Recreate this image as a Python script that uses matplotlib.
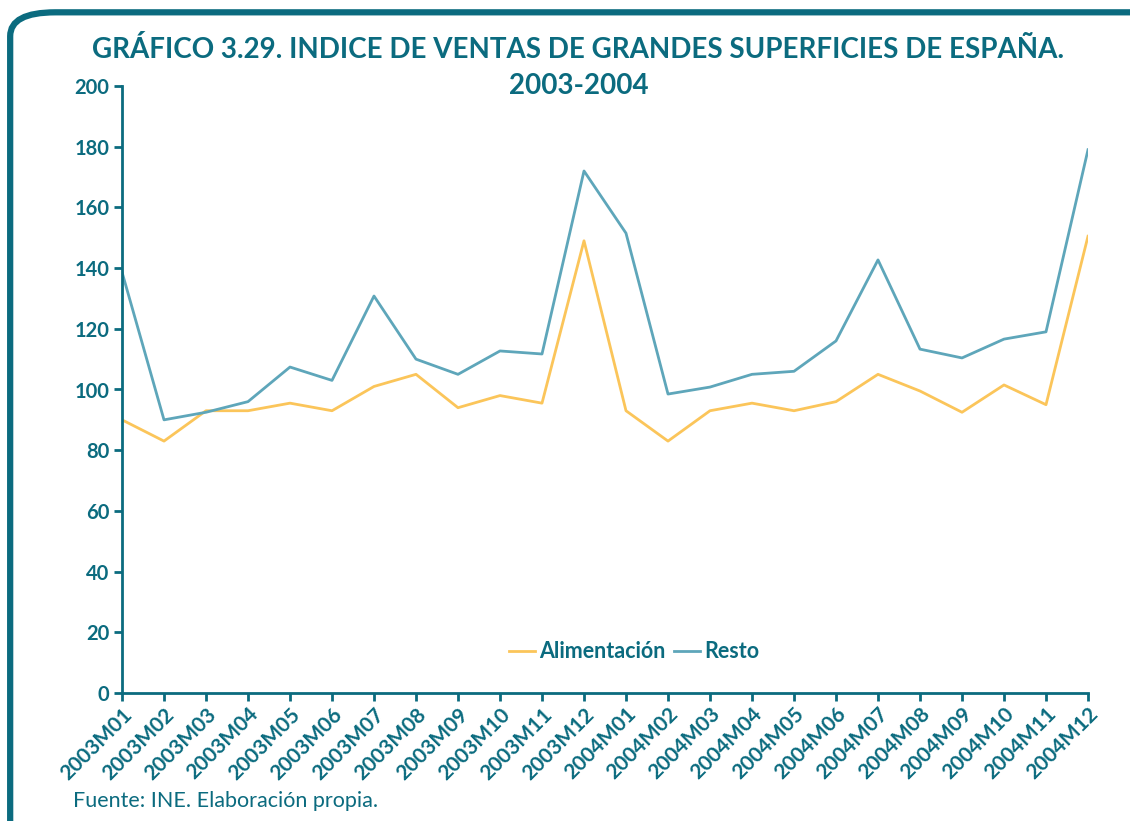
import numpy as np
import matplotlib.pyplot as plt
from matplotlib.patches import FancyBboxPatch

# ---------------------------- data ---------------------------- #
months = ['2003M01', '2003M02', '2003M03', '2003M04', '2003M05', '2003M06',
          '2003M07', '2003M08', '2003M09', '2003M10', '2003M11', '2003M12',
          '2004M01', '2004M02', '2004M03', '2004M04', '2004M05', '2004M06',
          '2004M07', '2004M08', '2004M09', '2004M10', '2004M11', '2004M12']

alimentacion = [90, 83, 93, 93, 95.5, 93, 101, 105, 94, 98, 95.5, 149,
                93, 83, 93, 95.5, 93, 96, 105, 99.5, 92.5, 101.5, 95, 150.5]

resto = [138.7, 90, 92.5, 96, 107.4, 103, 130.8, 110, 105, 112.7, 111.7, 172,
         151.5, 98.5, 100.8, 105, 106, 116, 142.7, 113.3, 110.4, 116.6, 119, 179]

yticks = [0, 20, 40, 60, 80, 100, 120, 140, 160, 180, 200]

TEAL = '#0b6b7f'
YELLOW = '#fbc55a'
BLUE = '#5ea6ba'

plt.rcParams['font.family'] = ['Lato', 'DejaVu Sans']

fig = plt.figure(figsize=(11.3, 8.21), dpi=100)

# rounded frame round the whole chart
frame = FancyBboxPatch((0.009, -0.05), 1.05, 1.035, transform=fig.transFigure,
                       boxstyle='round,pad=0,rounding_size=0.04',
                       fill=False, edgecolor=TEAL, linewidth=4.5, clip_on=False,
                       mutation_aspect=821 / 1130)
fig.patches.append(frame)

ax = fig.add_axes([122 / 1130, 1 - 693 / 821, (1088 - 122) / 1130, (693 - 86) / 821])

x = np.arange(len(months))
ax.plot(x, alimentacion, color=YELLOW, lw=2, label='Alimentación')
ax.plot(x, resto, color=BLUE, lw=2, label='Resto')

ax.set_xlim(0, len(months) - 1)
ax.set_ylim(0, 200)
ax.set_yticks(yticks)
ax.set_xticks(x)
ax.set_xticklabels(months, rotation=45, ha='right', rotation_mode='anchor')

for s in ['top', 'right']:
    ax.spines[s].set_visible(False)
for s in ['left', 'bottom']:
    ax.spines[s].set_color(TEAL)
    ax.spines[s].set_linewidth(2)

ax.tick_params(axis='both', colors=TEAL, width=2, length=6, pad=3)
ax.tick_params(axis='x', labelsize=15, pad=2)
ax.tick_params(axis='y', labelsize=14.5)
for lab in ax.get_xticklabels() + ax.get_yticklabels():
    lab.set_fontweight('bold')
    lab.set_color(TEAL)

leg = ax.legend(loc='center', bbox_to_anchor=(0.53, 0.068), ncol=2, frameon=False,
                handlelength=1.2, handletextpad=0.2, columnspacing=0.4,
                prop={'weight': 'bold', 'size': 15.5})
for t in leg.get_texts():
    t.set_color(TEAL)

fig.text(0.512, 1 - 50 / 821, 'GRÁFICO 3.29. INDICE DE VENTAS DE GRANDES SUPERFICIES DE ESPAÑA.',
         ha='center', va='center', fontsize=20, fontweight='bold', color=TEAL)
fig.text(0.512, 1 - 86 / 821, '2003-2004',
         ha='center', va='center', fontsize=20, fontweight='bold', color=TEAL)

fig.text(73 / 1130, 1 - 801 / 821, 'Fuente: INE. Elaboración propia.',
         ha='left', va='center', fontsize=15.5, color=TEAL)

fig.savefig('out.png', dpi=100)
